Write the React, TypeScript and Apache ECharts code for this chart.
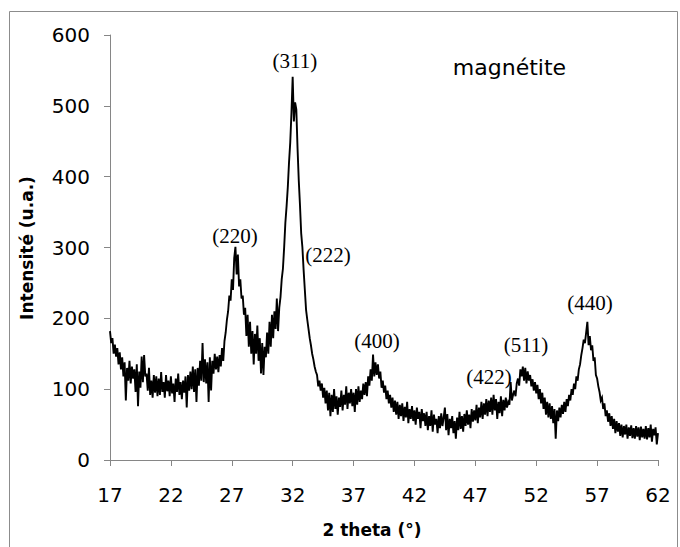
import React, { useEffect, useRef } from "react";
import * as echarts from "echarts";

// Scan grid (2 theta, degrees)
const ANGLE_START = 17;
const ANGLE_STEP = 0.1;

// Intensity (u.a.), one row per degree (17.0 ... 61.9), then 62.0
const intensity = [
  182, 165, 172, 150, 163, 146, 158, 135, 152, 128, // 17
  145, 118, 138, 84, 130, 112, 140, 108, 132, 115, // 18
  128, 96, 135, 76, 125, 102, 146, 110, 148, 118, // 19
  122, 98, 130, 92, 112, 88, 120, 95, 118, 90, // 20
  115, 92, 124, 96, 110, 88, 120, 97, 112, 90, // 21
  118, 94, 108, 82, 115, 96, 122, 92, 110, 86, // 22
  112, 95, 118, 74, 120, 98, 125, 100, 132, 96, // 23
  128, 82, 130, 105, 140, 112, 165, 110, 142, 108, // 24
  138, 82, 145, 98, 140, 122, 150, 128, 146, 124, // 25
  148, 132, 158, 140, 168, 180, 198, 210, 232, 225, // 26
  255, 240, 285, 301, 262, 290, 245, 255, 228, 232, // 27
  205, 215, 175, 205, 160, 195, 150, 182, 135, 178, // 28
  150, 190, 140, 172, 122, 165, 120, 160, 145, 180, // 29
  150, 195, 160, 205, 172, 210, 185, 228, 182, 215, // 30
  230, 255, 270, 300, 335, 358, 385, 420, 448, 490, // 31
  541, 478, 505, 495, 440, 395, 360, 320, 300, 268, // 32
  240, 212, 198, 185, 172, 162, 150, 142, 132, 125, // 33
  120, 104, 112, 98, 108, 88, 102, 80, 98, 70, // 34
  95, 62, 92, 68, 100, 72, 90, 64, 88, 75, // 35
  98, 70, 92, 78, 104, 72, 95, 80, 100, 76, // 36
  95, 68, 100, 78, 104, 82, 98, 86, 108, 92, // 37
  110, 90, 118, 105, 128, 112, 149, 118, 138, 120, // 38
  135, 115, 125, 102, 112, 95, 105, 86, 98, 80, // 39
  92, 74, 88, 68, 84, 64, 82, 58, 78, 62, // 40
  80, 55, 75, 60, 82, 52, 72, 58, 76, 55, // 41
  70, 50, 74, 58, 68, 45, 72, 55, 66, 48, // 42
  68, 42, 62, 48, 70, 40, 64, 50, 58, 38, // 43
  62, 45, 66, 48, 60, 74, 42, 65, 35, 58, // 44
  45, 62, 38, 55, 30, 60, 42, 68, 44, 62, // 45
  40, 65, 48, 70, 50, 64, 45, 72, 54, 70, // 46
  56, 78, 52, 74, 60, 82, 58, 80, 64, 86, // 47
  62, 84, 68, 88, 64, 92, 70, 86, 58, 82, // 48
  66, 90, 62, 85, 70, 88, 74, 82, 78, 110, // 49
  84, 92, 98, 90, 108, 115, 105, 128, 118, 132, // 50
  112, 130, 108, 125, 112, 120, 104, 114, 98, 110, // 51
  94, 106, 86, 100, 80, 95, 72, 88, 64, 82, // 52
  60, 80, 58, 76, 52, 72, 30, 70, 55, 74, // 53
  60, 78, 65, 82, 68, 86, 76, 92, 84, 100, // 54
  92, 108, 100, 118, 112, 128, 135, 148, 158, 170, // 55
  165, 180, 195, 162, 175, 155, 162, 140, 145, 120, // 56
  115, 104, 96, 84, 88, 72, 80, 62, 70, 54, // 57
  66, 48, 62, 44, 58, 38, 55, 40, 52, 34, // 58
  50, 32, 48, 36, 50, 30, 46, 34, 49, 31, // 59
  45, 30, 48, 33, 46, 28, 47, 32, 44, 30, // 60
  48, 29, 45, 32, 50, 26, 44, 35, 46, 22, // 61
  38, // 62
];

// Axis ranges
const X_MIN = 17;
const X_MAX = 62;
const X_INTERVAL = 5;
const Y_MIN = 0;
const Y_MAX = 600;
const Y_INTERVAL = 100;

// Peak annotations (Miller indices) and their anchor in data coordinates
const peakLabels = ["(220)", "(311)", "(222)", "(400)", "(422)", "(511)", "(440)"];
const peakLabelAngles = [27.26, 32.19, 34.9, 38.92, 48.12, 51.16, 56.41];
const peakLabelLevels = [316, 563, 290, 168, 117, 162, 222];

const sampleName = "magnétite";
const sampleAngle = 49.8;
const sampleLevel = 554;

const xAxisTitle = "2 theta (°)";
const yAxisTitle = "Intensité (u.a.)";

export default function App() {
  const ref = useRef<HTMLDivElement>(null);

  useEffect(() => {
    if (!ref.current) return;
    const chart = echarts.init(ref.current, undefined, { renderer: "svg" });

    const points = intensity.map((v, i) => [
      Math.round((ANGLE_START + i * ANGLE_STEP) * 10) / 10,
      v,
    ]);

    const markData: any[] = peakLabels.map((t, i) => ({
      name: t,
      coord: [peakLabelAngles[i], peakLabelLevels[i]],
    }));
    markData.push({
      name: sampleName,
      coord: [sampleAngle, sampleLevel],
      label: { fontFamily: "DejaVu Sans", fontSize: 22 },
    });

    const axisGrey = "#868686";

    chart.setOption({
      animation: false,
      backgroundColor: "#ffffff",
      grid: { left: 110, right: 22, top: 35, bottom: 87, outerBoundsMode: "none" },
      xAxis: {
        type: "value",
        min: X_MIN,
        max: X_MAX,
        interval: X_INTERVAL,
        axisLine: { show: true, lineStyle: { color: axisGrey, width: 1 } },
        axisTick: { show: true, length: 6, lineStyle: { color: axisGrey } },
        axisLabel: {
          color: "#000",
          fontFamily: "DejaVu Sans",
          fontSize: 20,
          margin: 25,
        },
        splitLine: { show: false },
      },
      yAxis: {
        type: "value",
        min: Y_MIN,
        max: Y_MAX,
        interval: Y_INTERVAL,
        axisLine: { show: true, lineStyle: { color: axisGrey, width: 1 } },
        axisTick: { show: true, length: 6, lineStyle: { color: axisGrey } },
        axisLabel: {
          color: "#000",
          fontFamily: "DejaVu Sans",
          fontSize: 20,
          margin: 20,
        },
        splitLine: { show: false },
      },
      series: [
        {
          type: "line",
          data: points,
          symbol: "none",
          showSymbol: false,
          lineStyle: { color: "#000", width: 1.9, join: "miter" },
          silent: true,
          markPoint: {
            symbol: "circle",
            symbolSize: 0,
            silent: true,
            itemStyle: { color: "rgba(0,0,0,0)" },
            label: {
              show: true,
              position: "inside",
              formatter: "{b}",
              color: "#000",
              fontFamily: "Liberation Serif",
              fontSize: 21,
            },
            data: markData,
          },
        },
      ],
      graphic: [
        {
          type: "rect",
          silent: true,
          shape: { x: 9.5, y: 11.5, width: 668, height: 560 },
          style: { fill: "none", stroke: "#8c8c8c", lineWidth: 1 },
        },
        {
          type: "text",
          x: 372,
          y: 530,
          silent: true,
          style: {
            text: xAxisTitle,
            fill: "#000",
            font: "bold 17px 'DejaVu Sans'",
            textAlign: "center",
            textVerticalAlign: "middle",
            align: "center",
            verticalAlign: "middle",
          },
        },
        {
          type: "text",
          x: 27,
          y: 248,
          rotation: Math.PI / 2,
          silent: true,
          style: {
            text: yAxisTitle,
            fill: "#000",
            font: "bold 17px 'DejaVu Sans'",
            textAlign: "center",
            textVerticalAlign: "middle",
            align: "center",
            verticalAlign: "middle",
          },
        },
      ],
    });

    return () => chart.dispose();
  }, []);

  return (
    <div
      ref={ref}
      style={{ position: "fixed", left: 0, top: 0, width: 680, height: 547, background: "#fff" }}
    />
  );
}
